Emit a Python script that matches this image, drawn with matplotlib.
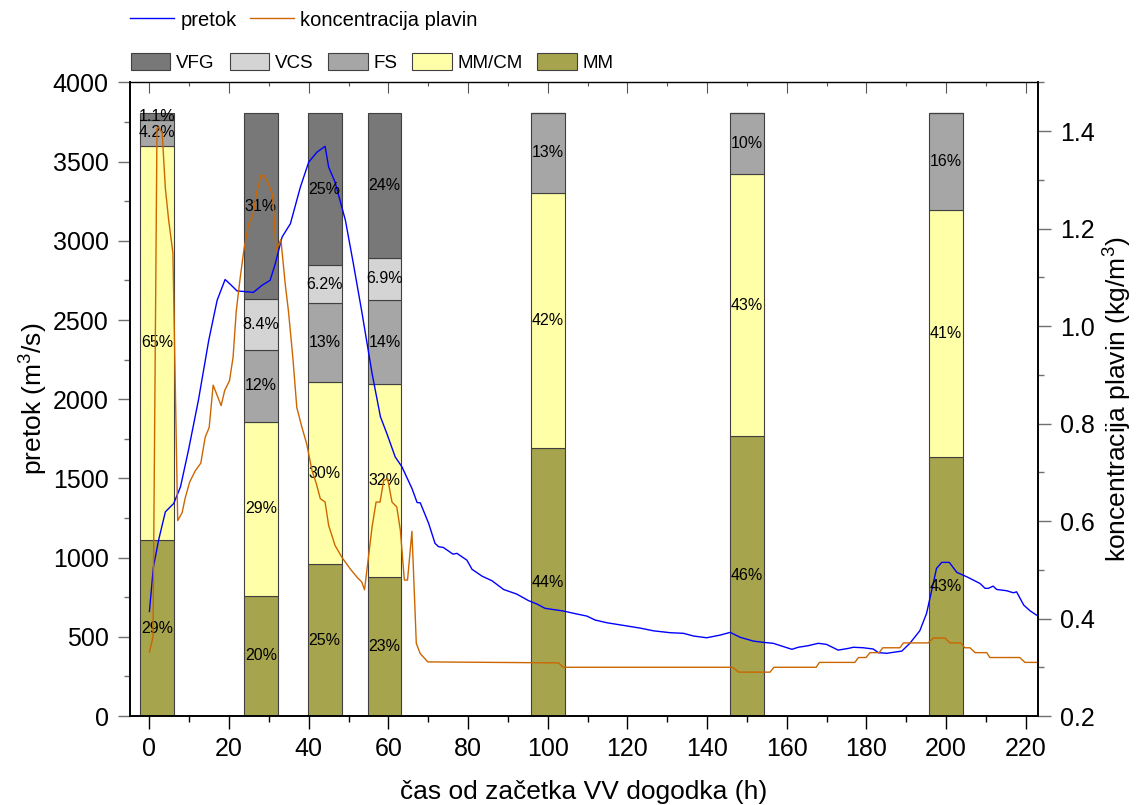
import numpy as np
import matplotlib
matplotlib.use("Agg")
import matplotlib.pyplot as plt
from matplotlib.patches import Patch
from matplotlib.lines import Line2D
from matplotlib.ticker import MultipleLocator, FormatStrFormatter

plt.rcParams["font.family"] = ["Liberation Sans", "DejaVu Sans"]
plt.rcParams["mathtext.fontset"] = "custom"
plt.rcParams["mathtext.rm"] = "Liberation Sans"
plt.rcParams["mathtext.it"] = "Liberation Sans:italic"

# ---------- pretok (m3/s) ----------
t_pretok = [0, 1.0, 2.3, 4.0, 6.1, 7.8, 9.8, 12.3, 14.9, 17.0,
            19.0, 20.3, 22.0, 26.1, 28.3, 30.3, 31.6, 33.3, 35.4, 37.9,
            40.0, 42.1, 44.1, 45.0, 46.6, 49.2, 51.2, 53.4, 55.9, 58.0,
            59.6, 61.7, 63.4, 65.9, 67.2, 68.0, 70.1, 71.7, 72.6, 73.8,
            76.2, 77.2, 79.7, 81.0, 83.5, 86.0, 88.9, 92.2, 95.2, 97.3,
            99.3, 103.9, 107.3, 109.8, 111.9, 114.8, 119.0, 123.2, 126.5, 130.7,
            134.1, 136.6, 139.9, 143.3, 145.8, 148.3, 151.6, 154.1, 156.6, 158.7,
            161.3, 162.9, 165.4, 167.9, 170.0, 172.9, 175.5, 176.7, 179.2, 181.7,
            183.0, 185.1, 188.9, 190.9, 193.4, 195.1, 196.4, 197.6, 198.9, 200.8,
            202.7, 205.2, 208.5, 209.8, 210.6, 211.8, 212.7, 215.2, 216.9, 217.7,
            219.5, 221.1, 222.7]
pretok = [660, 940, 1110, 1289, 1342, 1447, 1678, 1994, 2373, 2625,
          2756, 2726, 2684, 2675, 2720, 2751, 2856, 3024, 3109, 3340,
          3498, 3561, 3597, 3466, 3371, 3130, 2856, 2541, 2162, 1889,
          1784, 1636, 1573, 1437, 1348, 1346, 1216, 1090, 1069, 1064,
          1022, 1027, 984, 926, 883, 854, 799, 770, 728, 707,
          680, 663, 644, 631, 606, 589, 572, 555, 538, 526,
          522, 505, 494, 511, 528, 497, 473, 465, 459, 442,
          421, 434, 444, 459, 452, 416, 427, 434, 431, 423,
          400, 396, 410, 459, 538, 648, 795, 932, 970, 970,
          907, 879, 837, 806, 806, 820, 799, 791, 778, 784,
          700, 664, 637]

# ---------- koncentracija plavin (kg/m3) ----------
t_konc = [0, 0.9, 1.9, 2.3, 3.2, 4.0, 4.8, 5.9, 7.1, 8.2,
          9.0, 10.1, 11.5, 12.9, 14.0, 15.0, 16.0, 18.0, 18.9, 20.1,
          21.0, 21.8, 22.8, 23.8, 24.9, 26.0, 27.0, 28.0, 28.8, 29.9,
          30.9, 31.3, 31.8, 33.0, 34.1, 34.9, 36.0, 37.0, 38.3, 39.5,
          40.8, 41.9, 42.9, 44.1, 45.0, 46.6, 48.3, 50.4, 52.1, 53.3,
          54.0, 54.8, 55.9, 56.9, 57.9, 58.8, 59.8, 60.9, 62.1, 63.0,
          64.0, 64.8, 65.9, 67.0, 68.0, 69.9, 102.7, 103.9, 146.4, 147.9,
          155.8, 156.8, 167.4, 168.2, 177.1, 178.0, 179.9, 180.9, 183.2, 184.1,
          188.4, 189.3, 195.5, 196.8, 199.7, 201.0, 203.7, 204.7, 206.0, 207.3,
          210.2, 211.0, 218.5, 219.8, 223]
konc = [0.331, 0.362, 1.405, 1.408, 1.397, 1.283, 1.220, 1.150, 0.601, 0.617,
        0.648, 0.680, 0.703, 0.719, 0.772, 0.792, 0.879, 0.837, 0.868, 0.888,
        0.936, 1.031, 1.100, 1.161, 1.209, 1.229, 1.277, 1.309, 1.309, 1.291,
        1.270, 1.223, 1.154, 1.178, 1.086, 1.031, 0.936, 0.833, 0.792, 0.758,
        0.704, 0.677, 0.646, 0.639, 0.591, 0.550, 0.526, 0.502, 0.485, 0.475,
        0.459, 0.513, 0.588, 0.639, 0.639, 0.683, 0.687, 0.639, 0.629, 0.581,
        0.479, 0.479, 0.579, 0.349, 0.328, 0.311, 0.309, 0.300, 0.300, 0.290,
        0.290, 0.300, 0.300, 0.310, 0.310, 0.320, 0.320, 0.330, 0.330, 0.340,
        0.340, 0.350, 0.350, 0.360, 0.360, 0.350, 0.350, 0.340, 0.340, 0.330,
        0.330, 0.320, 0.320, 0.310, 0.310]

# ---------- granulometric composition (%) ----------
bar_t = [2, 28, 44, 59, 100, 150, 200]
pct_MM = [29, 20, 25, 23, 44, 46, 43]
pct_MMCM = [65, 29, 30, 32, 42, 43, 41]
pct_FS = [4.2, 12, 13, 14, 13, 10, 16]
pct_VCS = [0, 8.4, 6.2, 6.9, 0, 0, 0]
pct_VFG = [1.1, 31, 25, 24, 0, 0, 0]
bar_total = 3805  # full bar height on the pretok scale

layers = [
    ("MM", pct_MM, "#a6a44d"),
    ("MM/CM", pct_MMCM, "#ffffa8"),
    ("FS", pct_FS, "#a6a6a6"),
    ("VCS", pct_VCS, "#d4d4d4"),
    ("VFG", pct_VFG, "#787878"),
]

W, H = 1142, 805
fig = plt.figure(figsize=(W / 100, H / 100), dpi=100)
ax = fig.add_axes([129.5 / W, 1 - 716 / H, (1037.7 - 129.5) / W, (716 - 82.5) / H])
ax2 = ax.twinx()

sums = np.sum([np.array(p, dtype=float) for _, p, _ in layers], axis=0)
bottom = np.zeros(len(bar_t))
for name, pct, color in layers:
    h = np.array(pct, dtype=float) / sums * bar_total
    ax.bar(bar_t, h, bottom=bottom, width=8.5, color=color,
           edgecolor="#404040", linewidth=0.8, zorder=1)
    for x, b, hh, p in zip(bar_t, bottom, h, pct):
        if p > 0:
            ax.text(x, b + hh / 2, f"{p:g}%", ha="center", va="center",
                    fontsize=11.5, color="black", zorder=3)
    bottom += h

ax.plot(t_pretok, pretok, color="#0000ff", linewidth=1.0, zorder=2)
ax2.plot(t_konc, konc, color="#cc6600", linewidth=1.0)

# ---------- axes ----------
ax.set_xlim(-5, 223)
ax.set_ylim(0, 4000)
ax2.set_ylim(0.2, 1.5)

ax.xaxis.set_major_locator(MultipleLocator(20))
ax.xaxis.set_minor_locator(MultipleLocator(10))
ax.yaxis.set_major_locator(MultipleLocator(500))
ax.yaxis.set_minor_locator(MultipleLocator(250))
ax2.yaxis.set_major_locator(MultipleLocator(0.2))
ax2.yaxis.set_minor_locator(MultipleLocator(0.1))
ax2.yaxis.set_major_formatter(FormatStrFormatter("%.1f"))

ax.tick_params(axis="x", which="major", direction="out", length=9, width=1,
               labelsize=18, pad=6)
ax.tick_params(axis="x", which="minor", direction="out", length=4.5, width=1)
ax.tick_params(axis="y", which="major", direction="out", length=9, width=1,
               labelsize=18, pad=6, color="#707070")
ax.tick_params(axis="y", which="minor", direction="out", length=4.5, width=1,
               color="#707070")
ax2.tick_params(axis="y", which="major", direction="out", length=9, width=1,
                labelsize=18, pad=7, color="#707070")
ax2.tick_params(axis="y", which="minor", direction="out", length=4.5, width=1,
                color="#707070")

top = ax.secondary_xaxis("top")
top.xaxis.set_major_locator(MultipleLocator(20))
top.xaxis.set_minor_locator(MultipleLocator(10))
top.tick_params(axis="x", which="major", direction="in", length=8, width=0.8,
                labeltop=False, color="#555555")
top.tick_params(axis="x", which="minor", direction="in", length=3, width=0.8,
                color="#555555")
top.spines["top"].set_linestyle((0, (1, 1)))
top.spines["top"].set_linewidth(1.0)
ax.spines["top"].set_visible(False)
ax2.spines["top"].set_visible(False)
for a in (ax, ax2):
    for s in ("left", "right", "bottom"):
        a.spines[s].set_linewidth(1.2)

ax.set_xlabel("čas od začetka VV dogodka (h)", fontsize=19, labelpad=14)
ax.set_ylabel("pretok (m$^3$/s)", fontsize=19, labelpad=2)
ax2.set_ylabel("koncentracija plavin (kg/m$^3$)", fontsize=19, labelpad=5)

# ---------- legends ----------
line_handles = [Line2D([], [], color="#0000ff", linewidth=1.0),
                Line2D([], [], color="#cc6600", linewidth=1.0)]
fig.legend(line_handles, ["pretok", "koncentracija plavin"],
           loc="center left", bbox_to_anchor=(130 / W, 1 - 20 / H),
           ncol=2, frameon=False, borderpad=0, borderaxespad=0,
           handlelength=2.2, handletextpad=0.3, columnspacing=0.65,
           fontsize=14.5)

patch_handles = [Patch(facecolor=c, edgecolor="#404040", linewidth=0.8)
                 for _, _, c in layers[::-1]]
fig.legend(patch_handles, [n for n, _, _ in layers[::-1]],
           loc="center left", bbox_to_anchor=(131 / W, 1 - 62.5 / H),
           ncol=5, frameon=False, borderpad=0, borderaxespad=0,
           handlelength=2.1, handleheight=1.0, handletextpad=0.3,
           columnspacing=0.8, fontsize=13.5)

fig.savefig("out.png", dpi=100)
